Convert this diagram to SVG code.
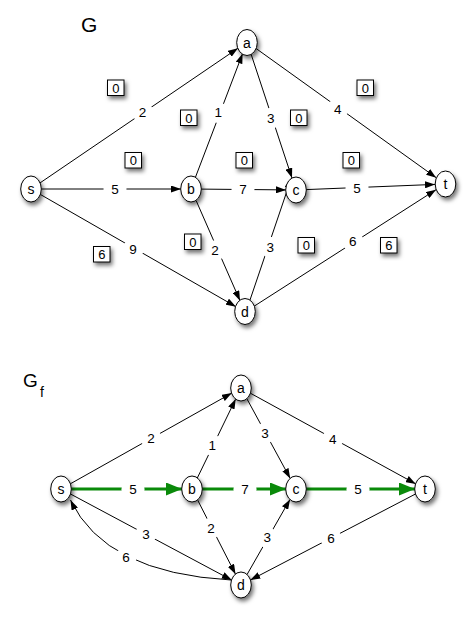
<svg xmlns="http://www.w3.org/2000/svg" width="476" height="620" viewBox="0 0 476 620">
<defs>
<filter id="sh" x="-50%" y="-50%" width="200%" height="200%">
<feDropShadow dx="2" dy="3" stdDeviation="2" flood-color="#000" flood-opacity="0.55"/>
</filter>
<marker id="ar" viewBox="0 0 10 7" refX="10" refY="3.5" markerWidth="10" markerHeight="7" markerUnits="userSpaceOnUse" orient="auto">
<path d="M0,0 L10,3.5 L0,7 z" fill="#000"/>
</marker>
<marker id="ag" viewBox="0 0 16 13" refX="16" refY="6.5" markerWidth="16" markerHeight="13" markerUnits="userSpaceOnUse" orient="auto">
<path d="M0,0 L16,6.5 L0,13 z" fill="#0a8a0a"/>
</marker>
</defs>
<style>
text{font-family:"Liberation Sans",Arial,sans-serif;fill:#000}
.e{fill:none;stroke:#000;stroke-width:1;marker-end:url(#ar)}
.g{fill:none;stroke:#0a8a0a;stroke-width:3;marker-end:url(#ag)}
.bg{fill:#fff;stroke:none}
.l{font-size:13.5px;text-anchor:middle}
.n ellipse{fill:#fff;stroke:#000;stroke-width:1;filter:url(#sh)}
.n text{font-size:14px;text-anchor:middle}
.b rect{fill:#fff;stroke:#000;stroke-width:1;filter:url(#sh)}
.b text{font-size:13px;text-anchor:middle}
</style>

<text x="81" y="31.5" style="font-size:21px">G</text>
<text x="23" y="387" style="font-size:19px">G</text>
<text x="40" y="397" style="font-size:14px">f</text>

<g id="connectors">
<line class="e" x1="39.9" y1="183" x2="238" y2="48.2"/>
<line class="e" x1="195.4" y1="177.4" x2="242.6" y2="53.6"/>
<line class="e" x1="251" y1="53.9" x2="292" y2="178.1"/>
<line class="e" x1="255.8" y1="48.3" x2="436.2" y2="177.7"/>
<line class="e" x1="41" y1="189" x2="181" y2="189"/>
<line class="e" x1="201" y1="189.1" x2="286" y2="189.9"/>
<line class="e" x1="306" y1="189.6" x2="435" y2="184.4"/>
<line class="e" x1="40.1" y1="194.3" x2="235.9" y2="306.7"/>
<line class="e" x1="196" y1="200.3" x2="240" y2="300.7"/>
<line class="e" x1="249.8" y1="300.6" x2="291.2" y2="178.6"/>
<line class="e" x1="254" y1="306.3" x2="436" y2="189.7"/>

<line class="e" x1="70.2" y1="483.9" x2="231.8" y2="393.1"/>
<line class="e" x1="197.3" y1="478" x2="235.7" y2="399"/>
<line class="e" x1="246.8" y1="398.6" x2="290.2" y2="478.4"/>
<line class="e" x1="250.2" y1="393.1" x2="415.8" y2="483.9"/>
<line class="g" x1="71" y1="489" x2="182" y2="489"/>
<line class="g" x1="202" y1="489" x2="286" y2="489"/>
<line class="g" x1="306" y1="489" x2="415" y2="489"/>
<line class="e" x1="70.3" y1="493.9" x2="231.7" y2="580.1"/>
<line class="e" x1="197.5" y1="499.8" x2="235.5" y2="574.2"/>
<line class="e" x1="247" y1="574.6" x2="290" y2="499.4"/>
<line class="e" x1="415.7" y1="493.9" x2="250.3" y2="580.1"/>
<path class="e" d="M231,580 Q105,573 70.5,500"/>

<circle class="bg" cx="142.5" cy="112" r="10.5"/><text class="l" x="142.5" y="116.7">2</text>
<circle class="bg" cx="218.3" cy="112.7" r="10.5"/><text class="l" x="218.3" y="117.4">1</text>
<circle class="bg" cx="270.7" cy="118.3" r="10.5"/><text class="l" x="270.7" y="123">3</text>
<circle class="bg" cx="337.7" cy="109" r="10.5"/><text class="l" x="337.7" y="113.7">4</text>
<circle class="bg" cx="115" cy="189" r="11.5"/><text class="l" x="115" y="193.7">5</text>
<circle class="bg" cx="243" cy="189" r="11.5"/><text class="l" x="243" y="193.7">7</text>
<circle class="bg" cx="357" cy="188" r="11.5"/><text class="l" x="357" y="192.7">5</text>
<circle class="bg" cx="133" cy="249.3" r="10.5"/><text class="l" x="133" y="254">9</text>
<circle class="bg" cx="215" cy="250.7" r="10.5"/><text class="l" x="215" y="255.4">2</text>
<circle class="bg" cx="270.3" cy="247.3" r="10.5"/><text class="l" x="270.3" y="252">3</text>
<circle class="bg" cx="352.7" cy="241" r="10.5"/><text class="l" x="352.7" y="245.7">6</text>

<circle class="bg" cx="151" cy="438.3" r="10.5"/><text class="l" x="151" y="443">2</text>
<circle class="bg" cx="212.3" cy="445" r="10.5"/><text class="l" x="212.3" y="449.7">1</text>
<circle class="bg" cx="265" cy="433.3" r="10.5"/><text class="l" x="265" y="438">3</text>
<circle class="bg" cx="332.7" cy="439" r="10.5"/><text class="l" x="332.7" y="443.7">4</text>
<circle class="bg" cx="133" cy="489.3" r="11.5"/><text class="l" x="133" y="494">5</text>
<circle class="bg" cx="245" cy="489.3" r="11.5"/><text class="l" x="245" y="494">7</text>
<circle class="bg" cx="358" cy="489.3" r="11.5"/><text class="l" x="358" y="494">5</text>
<circle class="bg" cx="146" cy="534" r="10.5"/><text class="l" x="146" y="538.7">3</text>
<circle class="bg" cx="211" cy="528.3" r="10.5"/><text class="l" x="211" y="533">2</text>
<circle class="bg" cx="126" cy="557.7" r="10.5"/><text class="l" x="126" y="562.4">6</text>
<circle class="bg" cx="267.3" cy="537.7" r="10.5"/><text class="l" x="267.3" y="542.4">3</text>
<circle class="bg" cx="331" cy="538.3" r="10.5"/><text class="l" x="331" y="543">6</text>
</g>

<g id="flows">
<g class="b" id="f1"><rect x="107.5" y="80" width="16.5" height="15.5"/><text x="115.8" y="92.5">0</text></g>
<g class="b" id="f2"><rect x="180.5" y="110" width="16.5" height="15.5"/><text x="188.8" y="122.5">0</text></g>
<g class="b" id="f3"><rect x="125" y="152.5" width="16.5" height="15.5"/><text x="133.3" y="165">0</text></g>
<g class="b" id="f4"><rect x="236" y="152.5" width="16.5" height="15.5"/><text x="244.3" y="165">0</text></g>
<g class="b" id="f5"><rect x="290.5" y="110" width="16.5" height="15.5"/><text x="298.8" y="122.5">0</text></g>
<g class="b" id="f6"><rect x="357" y="80" width="16.5" height="15.5"/><text x="365.3" y="92.5">0</text></g>
<g class="b" id="f7"><rect x="343" y="152.5" width="16.5" height="15.5"/><text x="351.3" y="165">0</text></g>
<g class="b" id="f8"><rect x="184.5" y="234" width="16.5" height="15.5"/><text x="192.8" y="246.5">0</text></g>
<g class="b" id="f9"><rect x="93.5" y="246.5" width="16.5" height="15.5"/><text x="101.8" y="259">6</text></g>
<g class="b" id="f10"><rect x="298" y="237.5" width="16.5" height="15.5"/><text x="306.3" y="250">0</text></g>
<g class="b" id="f11"><rect x="380.5" y="237.5" width="16.5" height="15.5"/><text x="388.8" y="250">6</text></g>
</g>

<g class="n" id="G_s"><ellipse cx="31" cy="189" rx="10.3" ry="13"/><text x="31" y="194">s</text></g>
<g class="n" id="G_a"><ellipse cx="247" cy="42.5" rx="10.3" ry="13"/><text x="247" y="47.5">a</text></g>
<g class="n" id="G_b"><ellipse cx="191" cy="189" rx="10.3" ry="13"/><text x="191" y="194">b</text></g>
<g class="n" id="G_c"><ellipse cx="296" cy="190" rx="10.3" ry="13"/><text x="296" y="195">c</text></g>
<g class="n" id="G_t"><ellipse cx="445.5" cy="184" rx="10.3" ry="13"/><text x="445.5" y="189">t</text></g>
<g class="n" id="G_d"><ellipse cx="245" cy="311.5" rx="10.3" ry="13"/><text x="245" y="316.5">d</text></g>

<g class="n" id="Gf_s"><ellipse cx="61" cy="489" rx="10.3" ry="13"/><text x="61" y="494">s</text></g>
<g class="n" id="Gf_a"><ellipse cx="241" cy="388" rx="10.3" ry="13"/><text x="241" y="393">a</text></g>
<g class="n" id="Gf_b"><ellipse cx="192" cy="489" rx="10.3" ry="13"/><text x="192" y="494">b</text></g>
<g class="n" id="Gf_c"><ellipse cx="296" cy="489" rx="10.3" ry="13"/><text x="296" y="494">c</text></g>
<g class="n" id="Gf_t"><ellipse cx="425" cy="489" rx="10.3" ry="13"/><text x="425" y="494">t</text></g>
<g class="n" id="Gf_d"><ellipse cx="241" cy="585" rx="10.3" ry="13"/><text x="241" y="590">d</text></g>
</svg>
